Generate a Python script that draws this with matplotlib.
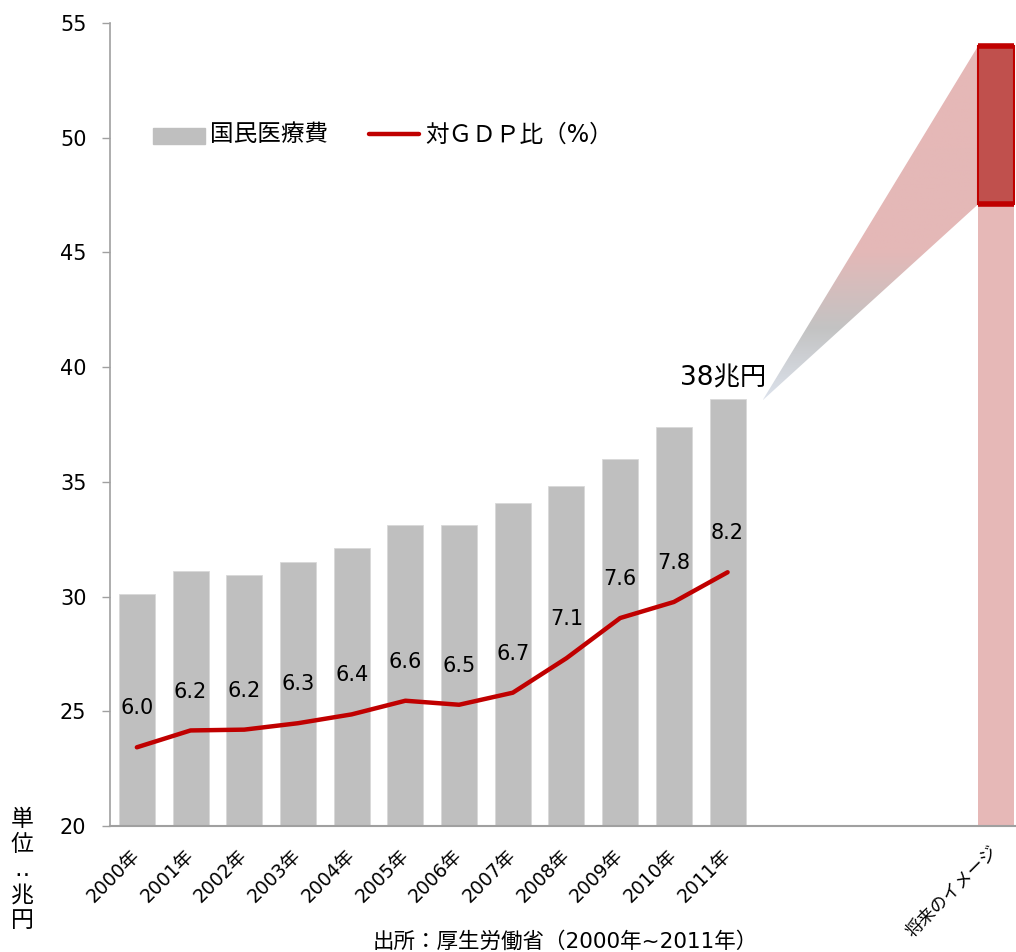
import numpy as np
import matplotlib
matplotlib.use("Agg")
import matplotlib.pyplot as plt
from matplotlib.patches import Rectangle, Polygon
from matplotlib.colors import LinearSegmentedColormap

plt.rcParams['font.family'] = ['DejaVu Sans', 'Noto Sans CJK JP']

# ---- data ----
years = ["2000年", "2001年", "2002年", "2003年", "2004年", "2005年",
         "2006年", "2007年", "2008年", "2009年", "2010年", "2011年"]
medical_cost = [30.1, 31.1, 30.95, 31.5, 32.1, 33.1, 33.1, 34.1, 34.8, 36.0, 37.4, 38.6]
gdp_ratio = [5.98, 6.19, 6.20, 6.28, 6.39, 6.56, 6.51, 6.66, 7.09, 7.59, 7.79, 8.16]
future_label = "将来のイメージ"
future_low = 47.1
future_high = 54.0
yticks = [20, 25, 30, 35, 40, 45, 50, 55]

BAR = "#bfbfbf"
RED = "#c00000"
PINK = "#e6b8b7"
DARK = "#c0504d"

fig = plt.figure(figsize=(10.16, 9.52), dpi=100)
ax = fig.add_axes([110/1016, 126/952, 906/1016, 803/952])

x = np.arange(len(years))
fx = len(years) + 4  # future position
w = 0.67

ax.bar(x, np.array(medical_cost) - 20, bottom=20, width=w, color=BAR,
       edgecolor="#d9d9d9", linewidth=0.6, zorder=2)
# future bar
ax.bar([fx], [future_low - 20], bottom=20, width=w, color=PINK, zorder=2)
ax.bar([fx], [future_high - future_low], bottom=future_low, width=w,
       color=DARK, edgecolor=RED, linewidth=1.5, zorder=3)
ax.hlines([future_low, future_high], fx - w/2, fx + w/2, colors=RED, lw=4, zorder=4)

# gradient wedge from 2011 bar to future bar
apex = (x[-1] + 0.65, medical_cost[-1] - 0.05)
left_edge = fx - w/2
poly = Polygon([apex, (left_edge, future_high), (left_edge, future_low)],
               closed=True, facecolor="none", edgecolor="none")
ax.add_patch(poly)
cmap = LinearSegmentedColormap.from_list(
    "g", [(0.0, "#dce2ec"), (0.2, "#c3c3c3"), (0.42, "#e4b8b7"), (1.0, PINK)])
grad = np.linspace(0, 1, 256).reshape(-1, 1)
im = ax.imshow(grad, extent=[apex[0], left_edge, apex[1], future_high],
               origin="lower", aspect="auto", cmap=cmap, zorder=1.5)
im.set_clip_path(poly)

ax.set_xlim(-0.5, 16.37)
ax.set_ylim(20, 55)
ax.set_yticks(yticks)
ax.tick_params(axis="y", labelsize=15, length=6, width=1, color="#a0a0a0", pad=11)
ax.set_xticks(list(x))
ax.set_xticklabels(years, rotation=45, ha="right", rotation_mode="anchor", fontsize=13.5)
ax.tick_params(axis="x", length=0, pad=19)
for lab in ax.get_xticklabels():
    lab.set_va("center")
ax.text(fx - 0.02, 19.0, future_label, rotation=45, ha="right", va="center",
        rotation_mode="anchor", fontsize=12.5, clip_on=False)

for s in ["top", "right"]:
    ax.spines[s].set_visible(False)
ax.spines["left"].set_color("#a0a0a0")
ax.spines["left"].set_linewidth(1.2)
ax.spines["bottom"].set_color("#a0a0a0")
ax.spines["bottom"].set_linewidth(1.5)

# GDP ratio line on hidden secondary axis
ax2 = ax.twinx()
ax2.set_ylim(5, 15)
ax2.set_xlim(ax.get_xlim())
ax2.axis("off")
ax2.plot(x, gdp_ratio, color=RED, lw=3.2, solid_capstyle="round", zorder=5)
for xi, v in zip(x, gdp_ratio):
    ax2.annotate(f"{v:.1f}", (xi, v), xytext=(0, 28), textcoords="offset points",
                 ha="center", va="center", fontsize=15)

ax.text(10.91, 39.5, "38兆円", ha="center", va="center", fontsize=19)

# legend (manual)
ax.add_patch(Rectangle((0.30, 49.73), 0.97, 0.7, color=BAR, zorder=3))
ax.text(1.36, 50.15, "国民医療費", ha="left", va="center", fontsize=17)
ax.plot([4.32, 5.25], [50.15, 50.15], color=RED, lw=3.2, solid_capstyle="round", zorder=3)
ax.text(5.38, 50.15, "対ＧＤＰ比（%）", ha="left", va="center", fontsize=17)

fig.text(22/1016, (952-870)/952, "単\n位\n‥\n兆\n円", ha="center", va="center",
         fontsize=16.5, linespacing=1.12)
fig.text(565/1016, 11/952, "出所：厚生労働省（2000年~2011年）", ha="center", va="center",
         fontsize=15.5)

fig.savefig("out.png", dpi=100)
